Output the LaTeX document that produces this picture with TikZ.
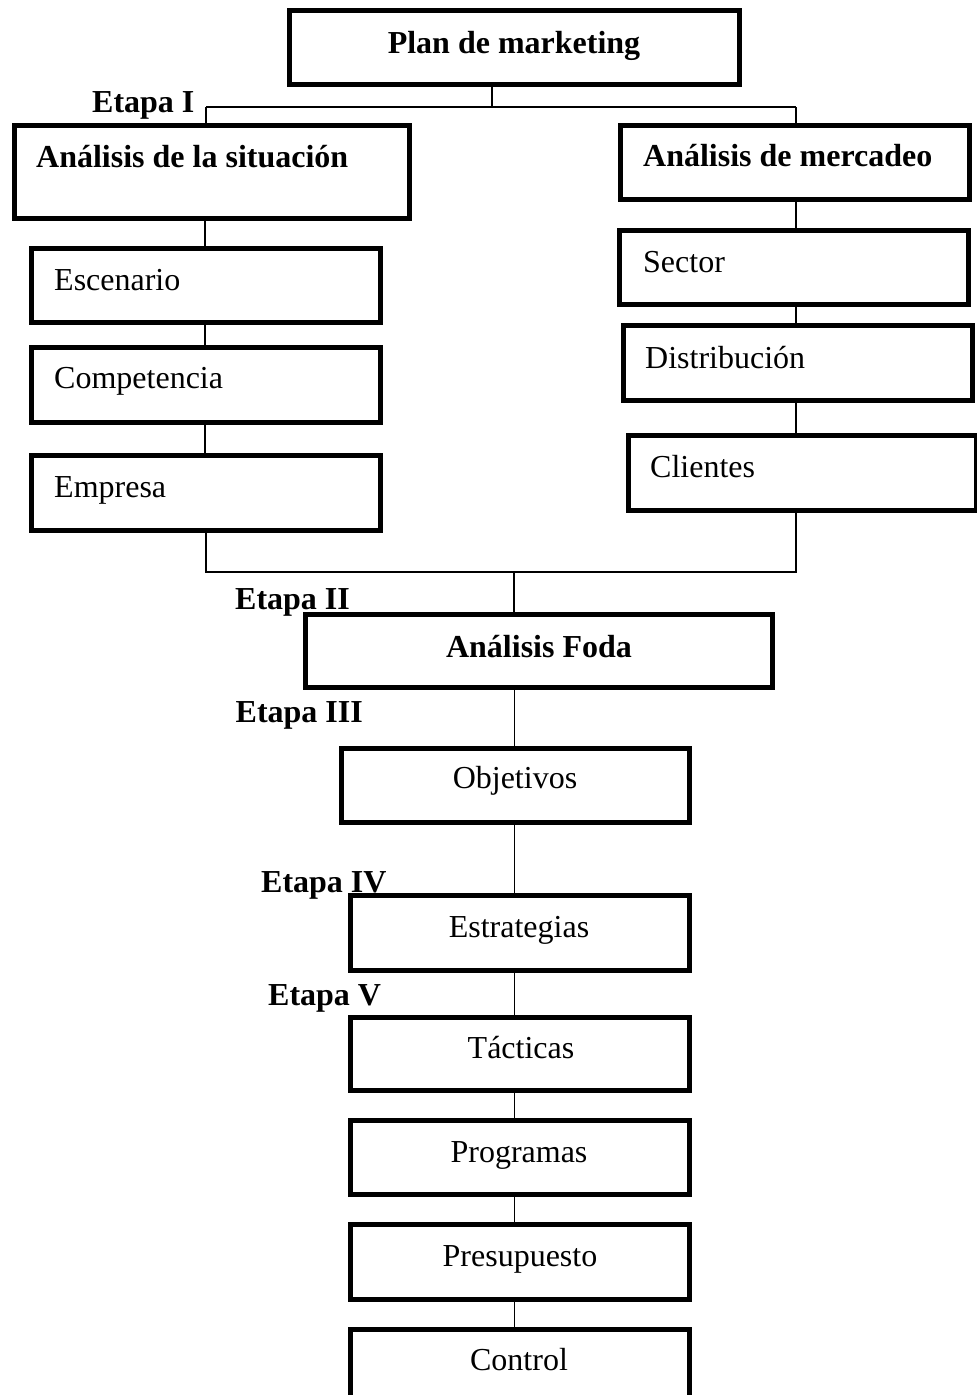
\documentclass[tikz,border=0pt]{standalone}
\usepackage{fontspec}
\setmainfont{Liberation Serif}
\newcommand\obox[5]{\node[box, minimum width={#4-#2-5pt}, minimum height={#5-#3-5pt}] (#1) at ({(#2+#4)/2},{(#3+#5)/2}) {};}
\tikzset{
  box/.style={draw=black, line width=5pt, inner sep=0pt, fill=white, rectangle},
  conn/.style={draw=black, line width=1.7pt},
  txt/.style={inner sep=0pt, font=\fontsize{32}{38}\selectfont},
  btxt/.style={inner sep=0pt, font=\fontsize{32}{38}\selectfont\bfseries},
}
\begin{document}
\begin{tikzpicture}[x=1pt, y=-1pt]
\useasboundingbox (0,0) rectangle (977,1395);
\fill[white] (0,0) rectangle (977,1395);
\clip (0,0) rectangle (977,1395);
% junction coordinates
\coordinate (jt) at (492,107);
\coordinate (jl) at (206,107);
\coordinate (jr) at (796,107);
\coordinate (lc) at (205,0);
\coordinate (rc) at (796,0);
\coordinate (bl) at (206,572);
\coordinate (br) at (796,572);
\coordinate (bm) at (514,572);
\coordinate (mc) at (514.5,0);
% boxes
\obox{plan}{287}{8}{742}{87}
\obox{sit}{12}{123}{412}{221}
\obox{mer}{618}{123}{972}{202}
\obox{esc}{29}{246}{383}{325}
\obox{com}{29}{345}{383}{425}
\obox{emp}{29}{453}{383}{533}
\obox{sec}{617}{228}{971}{307}
\obox{dis}{621}{323}{975}{403}
\obox{cli}{626}{433}{979}{513}
\obox{foda}{303}{612}{775}{690}
\obox{obj}{339}{746}{692}{825}
\obox{est}{348}{893}{692}{973}
\obox{tac}{348}{1015}{692}{1093}
\obox{pro}{348}{1118}{692}{1197}
\obox{pre}{348}{1222}{692}{1302}
\obox{con}{348}{1327}{692}{1400}
% connectors
\draw[conn] (plan.south -| jt) -- (jt);
\draw[conn] (jl) -- (jr);
\draw[conn] (jl) -- (jl |- sit.north);
\draw[conn] (jr) -- (jr |- mer.north);
\draw[conn] (sit.south -| lc) -- (esc.north -| lc);
\draw[conn] (esc.south -| lc) -- (com.north -| lc);
\draw[conn] (com.south -| lc) -- (emp.north -| lc);
\draw[conn] (emp.south -| bl) -- (bl) -- (br) -- (cli.south -| br);
\draw[conn] (mer.south -| rc) -- (sec.north -| rc);
\draw[conn] (sec.south -| rc) -- (dis.north -| rc);
\draw[conn] (dis.south -| rc) -- (cli.north -| rc);
\draw[conn] (bm) -- (foda.north -| bm);
\draw[conn] (foda.south -| mc) -- (obj.north -| mc);
\draw[conn] (obj.south -| mc) -- (est.north -| mc);
\draw[conn] (est.south -| mc) -- (tac.north -| mc);
\draw[conn] (tac.south -| mc) -- (pro.north -| mc);
\draw[conn] (pro.south -| mc) -- (pre.north -| mc);
\draw[conn] (pre.south -| mc) -- (con.north -| mc);
% texts
\node[btxt, anchor=base] (tplan) at (514,53) {Plan de marketing};
\node[btxt, anchor=base west] (tsit) at (36,167) {Análisis de la situación};
\node[btxt, anchor=base west] (tmer) at (643,166) {Análisis de mercadeo};
\node[txt, anchor=base west] (tesc) at (54,290) {Escenario};
\node[txt, anchor=base west] (tcom) at (54,388) {Competencia};
\node[txt, anchor=base west] (temp) at (54,497) {Empresa};
\node[txt, anchor=base west] (tsec) at (643,272) {Sector};
\node[txt, anchor=base west] (tdis) at (645,368) {Distribución};
\node[txt, anchor=base west] (tcli) at (650,477) {Clientes};
\node[btxt, anchor=base] (tfoda) at (539,657) {Análisis Foda};
\node[txt, anchor=base] (tobj) at (515,788) {Objetivos};
\node[txt, anchor=base] (test) at (519,937) {Estrategias};
\node[txt, anchor=base] (ttac) at (521,1058) {Tácticas};
\node[txt, anchor=base] (tpro) at (519,1162) {Programas};
\node[txt, anchor=base] (tpre) at (520,1266) {Presupuesto};
\node[txt, anchor=base] (tcon) at (519,1370) {Control};
% stage labels
\node[btxt, anchor=base west] (e1) at (92,112) {Etapa I};
\node[btxt, anchor=base west] (e2) at (235,609) {Etapa II};
\node[btxt, anchor=base west] (e3) at (235.5,722) {Etapa III};
\node[btxt, anchor=base west] (e4) at (261,892) {Etapa IV};
\node[btxt, anchor=base west] (e5) at (268,1005) {Etapa V};
\end{tikzpicture}
\end{document}
